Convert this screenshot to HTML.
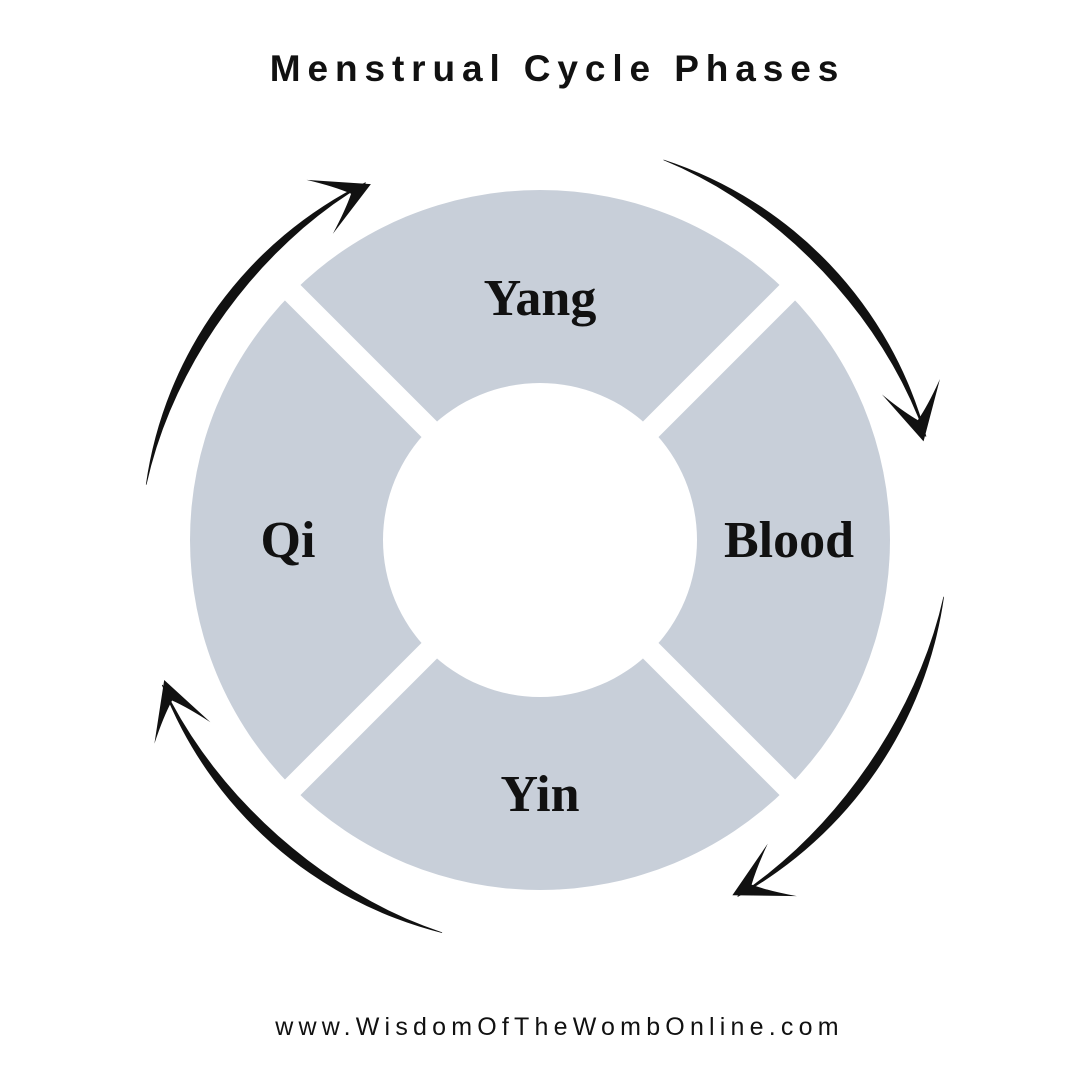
<!DOCTYPE html>
<html><head><meta charset="utf-8"><style>
html,body{margin:0;padding:0;background:#fff;}
body{width:1080px;height:1080px;overflow:hidden;position:relative;}
.t{position:absolute;left:0;width:1080px;text-align:center;color:#111;white-space:nowrap;}
</style></head><body>
<svg id="s" width="1080" height="1080" style="position:absolute;left:0;top:0">
<circle cx="540" cy="540" r="350" fill="#c8cfd9"/>
<line x1="240" y1="240" x2="840" y2="840" stroke="#fff" stroke-width="22"/>
<line x1="840" y1="240" x2="240" y2="840" stroke="#fff" stroke-width="22"/>
<circle cx="540" cy="540" r="157" fill="#fff"/>
<g font-family="'Liberation Serif',serif" font-weight="bold" font-size="52" fill="#111" text-anchor="middle">
<text x="540" y="315">Yang</text>
<text x="288" y="557">Qi</text>
<text x="789" y="557">Blood</text>
<text x="540" y="811">Yin</text>
</g>
<g id="arrows" fill="#111"></g>
</svg>
<div class="t" style="top:48px;font-family:'Liberation Sans',sans-serif;font-weight:bold;font-size:37px;letter-spacing:6.9px;text-indent:35px;">Menstrual Cycle Phases</div>
<div class="t" style="top:1013px;font-family:'Liberation Sans',sans-serif;font-size:25px;letter-spacing:5.2px;text-indent:39px;">www.WisdomOfTheWombOnline.com</div>
<script>
var g=document.getElementById('arrows');
function P(r,a){a=a*Math.PI/180;return [540+r*Math.cos(a),540+r*Math.sin(a)];}
function arrow(r,a0,a1){
  var s=P(r,a0),e=P(r,a1);
  var d='M'+s+' A'+r+' '+r+' 0 0 1 '+e;
  var pts=[];
  for(var i=20;i>=0;i--){var t=i/20;var a=a0+(a1-a0)*t;var w=10*Math.sin(Math.PI*Math.min(1,t*0.95+0.02));pts.push(P(r-w,a));}
  d+=' L'+pts.map(function(p){return p.join(',')}).join(' L')+' Z';
  var p=document.createElementNS('http://www.w3.org/2000/svg','path');p.setAttribute('d',d);g.appendChild(p);
  var a=a1*Math.PI/180, dx=-Math.sin(a), dy=Math.cos(a), nx=Math.cos(a), ny=Math.sin(a);
  var T=P(r-4,a1);
  function pt(b,n){return [T[0]-b*dx+n*nx,T[1]-b*dy+n*ny].join(',');}
  var h='M'+pt(-4,0)+' L'+pt(52,32)+' Q'+pt(30,14)+' '+pt(18,0)+' Q'+pt(30,-12)+' '+pt(52,-28)+' Z';
  var q=document.createElementNS('http://www.w3.org/2000/svg','path');q.setAttribute('d',h);g.appendChild(q);
}
arrow(400,-72,-15);
arrow(408,8,61);
arrow(405,104,159);
arrow(398,188,244);
</script>
</body></html>
